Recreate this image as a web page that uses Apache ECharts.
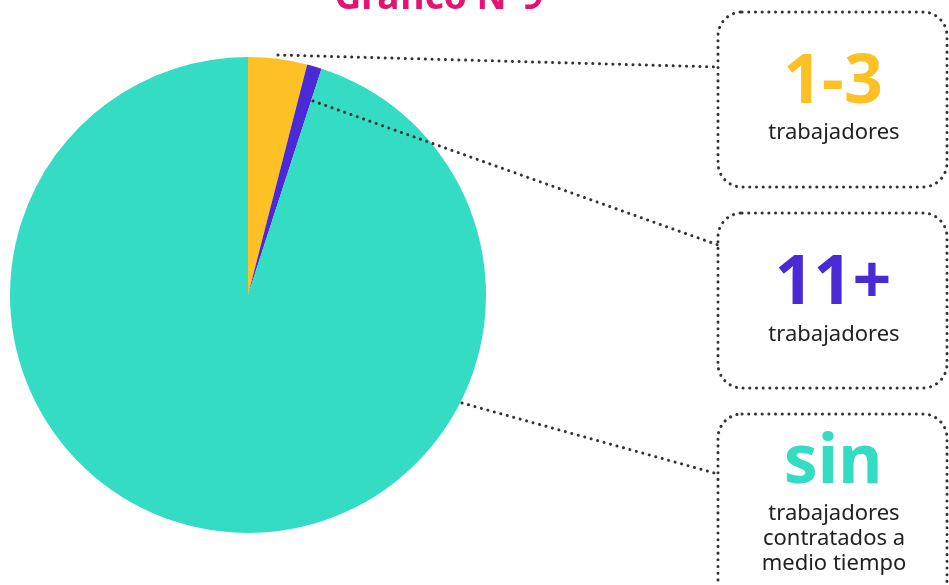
<!DOCTYPE html>
<html><head><meta charset="utf-8">
<script src="https://cdn.jsdelivr.net/npm/echarts@6/dist/echarts.min.js"></script>
<style>html,body{margin:0;padding:0;background:#fff}#c{width:949px;height:585px}</style>
</head><body><div id="c"></div>
<script>
const categories = ['1-3 trabajadores', '11+ trabajadores', 'sin trabajadores contratados a medio tiempo'];
const values = [4, 1, 95];
const colors = ['#FDC125', '#4A2AD4', '#34DCC4'];
const bigLabels = ['1-3', '11+', 'sin'];
const smallLabels = ['trabajadores', 'trabajadores', 'trabajadores\ncontratados a\nmedio tiempo'];
const titleText = 'Gráfico N°9';

const chart = echarts.init(document.getElementById('c'));
const dotStyle = {stroke:'#333', lineWidth:3, lineDash:[0.1,6.6], lineCap:'round', fill:null};
const boxes = [{y:12,h:175},{y:213,h:175},{y:414,h:190}];
const graphic = [];
graphic.push({type:'text', z:100, x:439, y:17, style:{text:titleText, fill:'#E3136F', font:'bold 37px "Noto Sans"', textAlign:'center', textVerticalAlign:'bottom'}});
boxes.forEach((b,i)=>{
  graphic.push({type:'rect', z:100, shape:{x:718,y:b.y,width:229,height:b.h,r:24}, style:dotStyle});
});
const leaders = [[[278,55],[718,67]],[[313,101],[718,245]],[[462,403],[718,474]]];
leaders.forEach(l=>graphic.push({type:'line', z:100, shape:{x1:l[0][0],y1:l[0][1],x2:l[1][0],y2:l[1][1]}, style:dotStyle}));
const bigY = [84, 285, 464];
const smallY = [132, 334, 513];
bigLabels.forEach((t,i)=>{
  graphic.push({type:'text', z:100, x:833, y:bigY[i], style:{text:t, fill:colors[i], font:'bold 68px "Noto Sans"', textAlign:'center', textVerticalAlign:'middle'}});
  graphic.push({type:'text', z:100, x:834, y:smallY[i]-12, style:{text:smallLabels[i], fill:'#222', font:'22px "Noto Sans"', textAlign:'center', textVerticalAlign:'top', lineHeight:25}});
});
chart.setOption({
  animation:false,
  series:[{type:'pie', center:[248,295], radius:[0,238], startAngle:90, clockwise:true,
    label:{show:false}, labelLine:{show:false}, emphasis:{disabled:true},
    data: categories.map((c,i)=>({name:c, value:values[i], itemStyle:{color:colors[i]}}))}],
  graphic: graphic
});
</script></body></html>
